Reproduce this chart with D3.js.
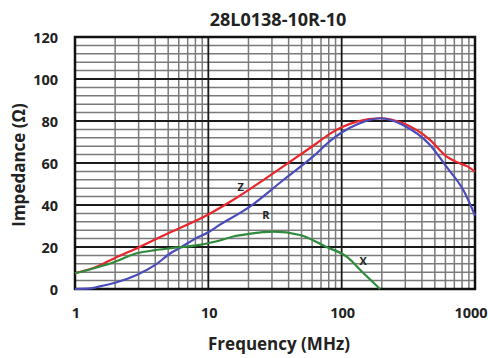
<!DOCTYPE html>
<html><head><meta charset="utf-8">
<script src="https://cdn.jsdelivr.net/npm/d3@7"></script>
<style>body{margin:0;background:#fff}svg{display:block}text{font-family:"Open Sans",sans-serif;font-weight:700;fill:#222}</style>
</head><body><svg id="c" width="488" height="358"></svg>
<script>
const title = "28L0138-10R-10";
const xTicks = [1, 10, 100, 1000];
const yTicks = [0, 20, 40, 60, 80, 100, 120];
const zFreq = [1, 1.5, 2, 3, 5, 10, 15, 27, 41, 65, 82, 100, 130, 194, 290, 460, 614, 700, 773, 870, 1000];
const zVals = [7.5, 11, 14.8, 19.8, 26.5, 35.5, 42, 52.7, 60.6, 69.4, 74, 77, 79.7, 81.3, 78.9, 71, 63, 61, 59.8, 58.5, 55.9];
const rFreq = [1, 1.3, 1.6, 2, 2.9, 4, 5.2, 6.1, 8, 10, 11.6, 20.5, 36.5, 65, 82, 100, 130, 194, 290, 460, 614, 819, 1000];
const rVals = [0, 0.3, 1.5, 3, 6.7, 11.5, 17, 19.5, 24, 27, 29.7, 39.2, 51.9, 64.6, 70.5, 74.5, 78.3, 81.3, 78, 68.6, 58, 47, 35];
const xFreq = [1, 1.5, 2, 2.9, 4, 5.2, 8.6, 10.3, 12, 15.4, 20, 30.7, 48.6, 77, 109, 146, 194];
const xVals = [7.5, 10.5, 13, 17, 18.5, 19.4, 21, 22, 23, 25, 26.2, 27.3, 25.7, 20, 15.4, 7.5, 0];

const svg = d3.select("#c");
const x = d3.scaleLog().domain([1, 1000]).range([75, 475]);
const y = d3.scaleLinear().domain([0, 120]).range([289, 37]);

// minor grid
const g = svg.append("g");
const minorX = [];
[1, 10, 100].forEach(d => { for (let k = 2; k <= 9; k++) minorX.push(k * d); });
g.selectAll(".mx").data(minorX).join("line")
  .attr("x1", d => x(d)).attr("x2", d => x(d)).attr("y1", y(0)).attr("y2", y(120))
  .attr("stroke", "#7a7a7a").attr("stroke-width", 1.5);
const minorY = d3.range(0, 121, 4).filter(v => v % 20 !== 0);
g.selectAll(".my").data(minorY).join("line")
  .attr("x1", x(1)).attr("x2", x(1000)).attr("y1", d => y(d)).attr("y2", d => y(d))
  .attr("stroke", "#7a7a7a").attr("stroke-width", 1.5);
// major grid
g.selectAll(".Mx").data(xTicks).join("line")
  .attr("x1", d => x(d)).attr("x2", d => x(d)).attr("y1", y(0)).attr("y2", y(120))
  .attr("stroke", "#1a1a1a").attr("stroke-width", 1.8);
g.selectAll(".My").data(yTicks).join("line")
  .attr("x1", x(1)).attr("x2", x(1000)).attr("y1", d => y(d)).attr("y2", d => y(d))
  .attr("stroke", "#1a1a1a").attr("stroke-width", 1.8);
svg.append("rect").attr("x", x(1)).attr("y", y(120)).attr("width", x(1000) - x(1)).attr("height", y(0) - y(120))
  .attr("fill", "none").attr("stroke", "#111").attr("stroke-width", 2.5);

// curves
const line = d3.line().x(d => x(d[0])).y(d => y(d[1])).curve(d3.curveMonotoneX);
const series = [
  {f: zFreq, v: zVals, c: "#e8262b"},
  {f: rFreq, v: rVals, c: "#4b4cbb"},
  {f: xFreq, v: xVals, c: "#2f8a3c"}
];
series.forEach(s => {
  svg.append("path").attr("d", line(s.f.map((f, i) => [f, s.v[i]])))
    .attr("fill", "none").attr("stroke", s.c).attr("stroke-width", 2.2);
});

// curve labels
const labels = [{t: "Z", f: 17.5, v: 49}, {t: "R", f: 27, v: 35.5}, {t: "X", f: 145, v: 13.5}];
svg.selectAll(".cl").data(labels).join("text")
  .attr("x", d => x(d.f)).attr("y", d => y(d.v)).attr("text-anchor", "middle")
  .attr("dominant-baseline", "central").attr("font-size", 11).text(d => d.t);

// axes labels
svg.selectAll(".yt").data(yTicks).join("text")
  .attr("x", 58).attr("y", d => y(d)).attr("text-anchor", "end").attr("dominant-baseline", "central")
  .attr("font-size", 14.5).text(d => d);
svg.selectAll(".xt").data(xTicks).join("text")
  .attr("x", d => x(d) + (d === 1000 ? -4 : 1)).attr("y", 312).attr("text-anchor", "middle").attr("dominant-baseline", "central")
  .attr("font-size", 14.5).text(d => d);
svg.append("text").attr("x", 278).attr("y", 19).attr("text-anchor", "middle").attr("dominant-baseline", "central")
  .attr("font-size", 18).text(title);
svg.append("text").attr("x", 279).attr("y", 343).attr("text-anchor", "middle").attr("dominant-baseline", "central")
  .attr("font-size", 17).text("Frequency (MHz)");
svg.append("text").attr("transform", "translate(18,165) rotate(-90)").attr("text-anchor", "middle").attr("dominant-baseline", "central")
  .attr("font-size", 17).text("Impedance (Ω)");
</script></body></html>
